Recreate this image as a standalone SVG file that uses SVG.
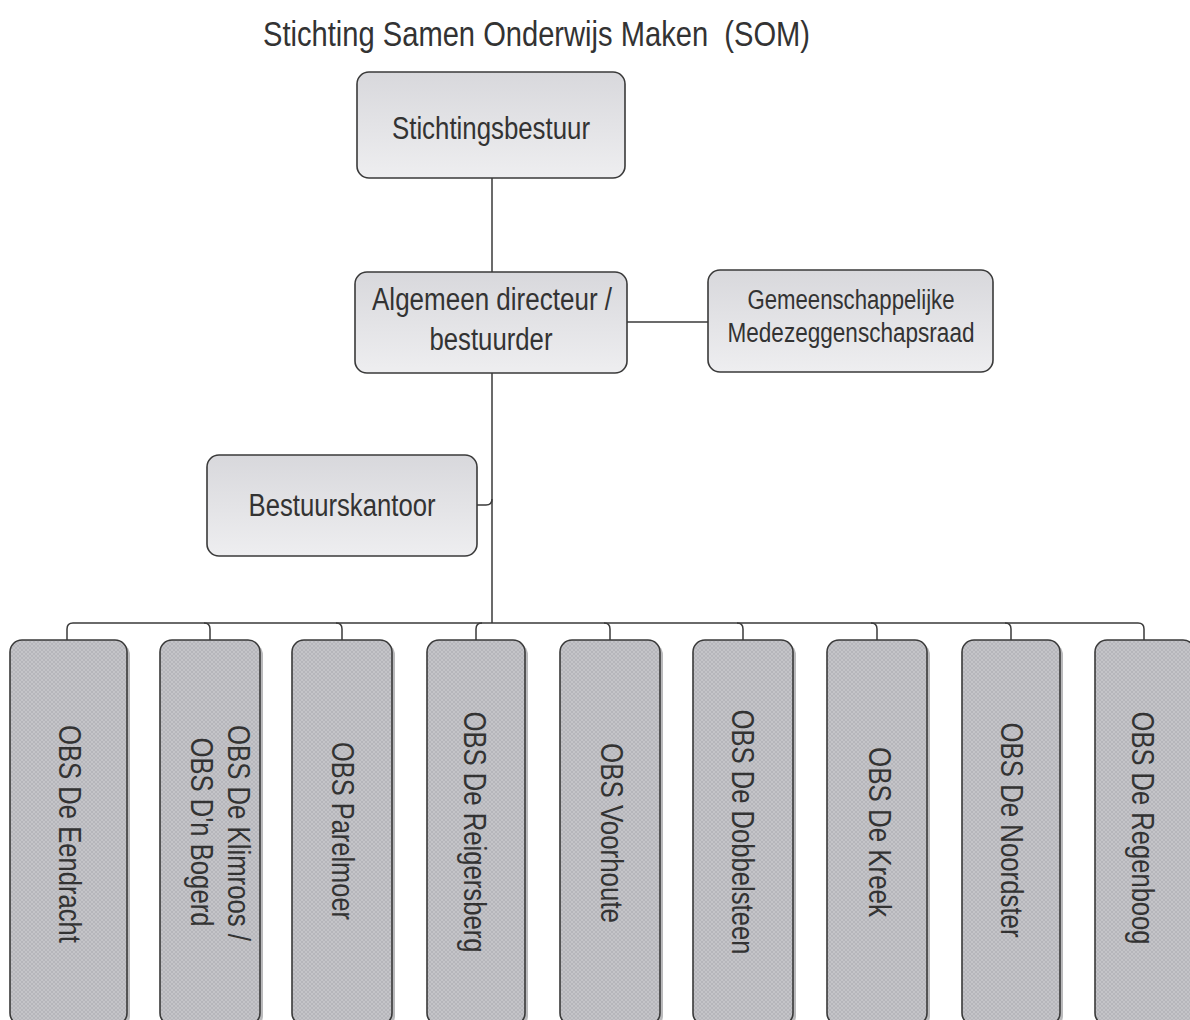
<svg xmlns="http://www.w3.org/2000/svg" width="1190" height="1020" viewBox="0 0 1190 1020">
<defs>
<linearGradient id="gTop" x1="0" y1="0" x2="0" y2="1">
<stop offset="0" stop-color="#d8d8dc"/>
<stop offset="1" stop-color="#eeeef0"/>
</linearGradient>
<pattern id="hatch" width="4" height="4" patternUnits="userSpaceOnUse">
<rect width="4" height="4" fill="#c4c4c8"/>
<path d="M0,4 L4,0 M0,0 L4,4" stroke="#adadb1" stroke-width="0.6"/>
</pattern>
<style>
.box{fill:url(#gTop);stroke:#3a3a3a;stroke-width:1.6}
.obs{fill:url(#hatch);stroke:#3a3a3a;stroke-width:1.6}
.sh{fill:#8c8c90;opacity:0.6}
.t{font-family:"Liberation Sans",Arial,sans-serif;fill:#333;font-size:31px}
.s{font-size:27px}
.c{fill:none;stroke:#3a3a3a;stroke-width:1.5}
</style>
</defs>
<rect width="1190" height="1020" fill="#ffffff"/>
<text class="t" x="263" y="46" style="font-size:35px" textLength="547" lengthAdjust="spacingAndGlyphs" xml:space="preserve">Stichting Samen Onderwijs Maken  (SOM)</text>
<g id="connectors">
<path class="c" d="M492,178 V272"/>
<path class="c" d="M492,373 V623"/>
<path class="c" d="M627,322 H708"/>
<path class="c" d="M477,505 H486 Q492,505 492,499"/>
<path class="c" d="M67,640 V629 Q67,623 73,623 H1138 Q1144,623 1144,629 V640"/>
<path class="c" d="M204,623 Q210,623 210,629 V640"/>
<path class="c" d="M336,623 Q342,623 342,629 V640"/>
<path class="c" d="M482,623 Q476,623 476,629 V640"/>
<path class="c" d="M604,623 Q610,623 610,629 V640"/>
<path class="c" d="M737,623 Q743,623 743,629 V640"/>
<path class="c" d="M871,623 Q877,623 877,629 V640"/>
<path class="c" d="M1005,623 Q1011,623 1011,629 V640"/>
</g>
<g id="n-stichtingsbestuur">
<rect class="box" x="357" y="72" width="268" height="106" rx="12"/>
<text class="t" x="491" y="139" text-anchor="middle" textLength="198" lengthAdjust="spacingAndGlyphs">Stichtingsbestuur</text>
</g>
<g id="n-algemeen">
<rect class="box" x="355" y="272" width="272" height="101" rx="12"/>
<text class="t" x="492" y="310" text-anchor="middle" textLength="240" lengthAdjust="spacingAndGlyphs">Algemeen directeur /</text>
<text class="t" x="491" y="350" text-anchor="middle" textLength="123" lengthAdjust="spacingAndGlyphs">bestuurder</text>
</g>
<g id="n-gmr">
<rect class="box" x="708" y="270" width="285" height="102" rx="12"/>
<text class="t s" x="851" y="309" text-anchor="middle" textLength="207" lengthAdjust="spacingAndGlyphs">Gemeenschappelijke</text>
<text class="t s" x="851" y="342" text-anchor="middle" textLength="247" lengthAdjust="spacingAndGlyphs">Medezeggenschapsraad</text>
</g>
<g id="n-bestuurskantoor">
<rect class="box" x="207" y="455" width="270" height="101" rx="12"/>
<text class="t" x="342" y="516" text-anchor="middle" textLength="187" lengthAdjust="spacingAndGlyphs">Bestuurskantoor</text>
</g>
<g id="n-eendracht">
<rect class="sh" x="13" y="643" width="117" height="385" rx="12"/>
<rect class="obs" x="10" y="640" width="117" height="385" rx="12"/>
<text class="t" transform="translate(70,834) rotate(90)" y="11" text-anchor="middle" textLength="218" lengthAdjust="spacingAndGlyphs">OBS De Eendracht</text>
</g>
<g id="n-klimroos">
<rect class="sh" x="163" y="643" width="100" height="385" rx="12"/>
<rect class="obs" x="160" y="640" width="100" height="385" rx="12"/>
<text class="t" transform="translate(239,833) rotate(90)" y="11" text-anchor="middle" textLength="216" lengthAdjust="spacingAndGlyphs">OBS De Klimroos /</text>
<text class="t" transform="translate(202,832) rotate(90)" y="11" text-anchor="middle" textLength="189" lengthAdjust="spacingAndGlyphs">OBS D'n Bogerd</text>
</g>
<g id="n-parelmoer">
<rect class="sh" x="295" y="643" width="100" height="385" rx="12"/>
<rect class="obs" x="292" y="640" width="100" height="385" rx="12"/>
<text class="t" transform="translate(343,831) rotate(90)" y="11" text-anchor="middle" textLength="178" lengthAdjust="spacingAndGlyphs">OBS Parelmoer</text>
</g>
<g id="n-reigersberg">
<rect class="sh" x="430" y="643" width="98" height="385" rx="12"/>
<rect class="obs" x="427" y="640" width="98" height="385" rx="12"/>
<text class="t" transform="translate(475,832) rotate(90)" y="11" text-anchor="middle" textLength="241" lengthAdjust="spacingAndGlyphs">OBS De Reigersberg</text>
</g>
<g id="n-voorhoute">
<rect class="sh" x="563" y="643" width="100" height="385" rx="12"/>
<rect class="obs" x="560" y="640" width="100" height="385" rx="12"/>
<text class="t" transform="translate(612,833) rotate(90)" y="11" text-anchor="middle" textLength="180" lengthAdjust="spacingAndGlyphs">OBS Voorhoute</text>
</g>
<g id="n-dobbelsteen">
<rect class="sh" x="696" y="643" width="100" height="385" rx="12"/>
<rect class="obs" x="693" y="640" width="100" height="385" rx="12"/>
<text class="t" transform="translate(743,832) rotate(90)" y="11" text-anchor="middle" textLength="245" lengthAdjust="spacingAndGlyphs">OBS De Dobbelsteen</text>
</g>
<g id="n-kreek">
<rect class="sh" x="830" y="643" width="100" height="385" rx="12"/>
<rect class="obs" x="827" y="640" width="100" height="385" rx="12"/>
<text class="t" transform="translate(880,832) rotate(90)" y="11" text-anchor="middle" textLength="170" lengthAdjust="spacingAndGlyphs">OBS De Kreek</text>
</g>
<g id="n-noordster">
<rect class="sh" x="965" y="643" width="98" height="385" rx="12"/>
<rect class="obs" x="962" y="640" width="98" height="385" rx="12"/>
<text class="t" transform="translate(1012,830) rotate(90)" y="11" text-anchor="middle" textLength="215" lengthAdjust="spacingAndGlyphs">OBS De Noordster</text>
</g>
<g id="n-regenboog">
<rect class="sh" x="1098" y="643" width="100" height="385" rx="12"/>
<rect class="obs" x="1095" y="640" width="100" height="385" rx="12"/>
<text class="t" transform="translate(1143,828) rotate(90)" y="11" text-anchor="middle" textLength="233" lengthAdjust="spacingAndGlyphs">OBS De Regenboog</text>
</g>
</svg>
